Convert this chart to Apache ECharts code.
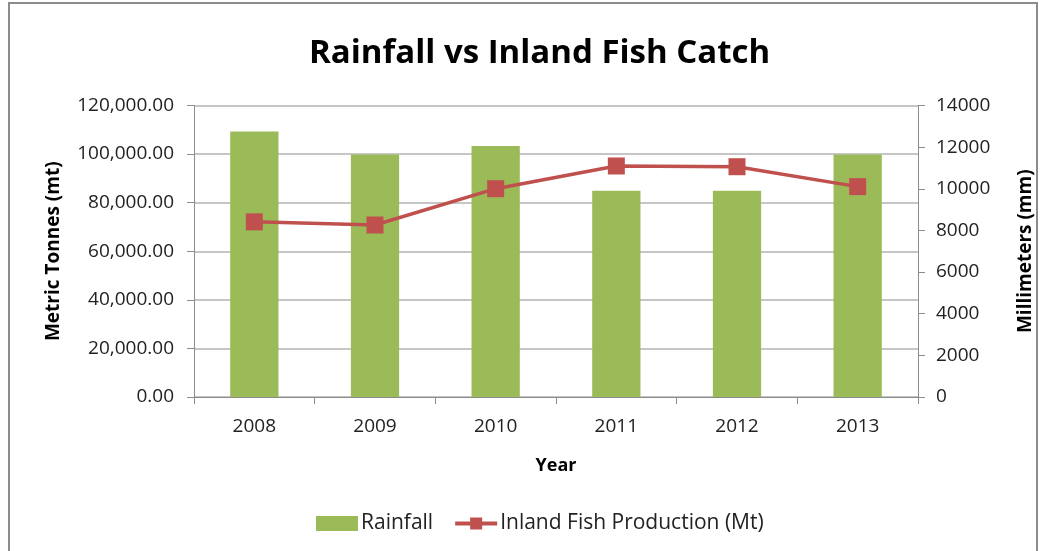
<!DOCTYPE html>
<html><head><meta charset="utf-8">
<script src="https://cdn.jsdelivr.net/npm/echarts@6/dist/echarts.min.js"></script>
<style>
html,body{margin:0;padding:0;background:#fff;}
#frame{position:absolute;left:8px;top:2px;width:1030px;height:560px;border:2px solid #8c8c8c;box-sizing:border-box;}
#c{position:absolute;left:0;top:0;width:1048px;height:551px;}
</style></head>
<body>
<div id="frame"></div>
<div id="c"></div>
<script>
const years = ['2008','2009','2010','2011','2012','2013'];
const rainfall = [12750, 11650, 12050, 9900, 9900, 11650];
const fishProduction = [72100, 70800, 85750, 95100, 94800, 86600];
const leftTicks = [0, 20000, 40000, 60000, 80000, 100000, 120000];
const rightTicks = [0, 2000, 4000, 6000, 8000, 10000, 12000, 14000];

const chart = echarts.init(document.getElementById('c'), null, {renderer:'canvas'});
const font = '"Open Sans", "Liberation Sans", sans-serif';
chart.setOption({
  backgroundColor: 'transparent',
  animation: false,
  title: {
    text: 'Rainfall vs Inland Fish Catch',
    left: 304, top: 32,
    textStyle: {fontFamily: font, fontWeight: 'bold', fontSize: 33, color: '#000'}
  },
  grid: {left: 194, right: 130, top: 105.5, bottom: 154, containLabel: false},
  legend: {
    bottom: 12, left: 311, itemGap: 20,
    textStyle: {fontFamily: font, fontSize: 21, color: '#222', padding: [0,0,0,-2]},
    data: [
      {name: 'Rainfall', icon: 'rect', itemStyle:{color:'#9bbb59'}},
      {name: 'Inland Fish Production (Mt)', lineStyle: {width: 4}}
    ],
    itemWidth: 42, itemHeight: 15
  },
  xAxis: {
    type: 'category', data: years,
    name: 'Year', nameLocation: 'middle', nameGap: 60,
    nameTextStyle: {fontFamily: font, fontWeight: 'bold', fontSize: 18, color: '#000'},
    axisLine: {lineStyle: {color: '#8c8c8c', width: 1}},
    axisTick: {show: true, length: 7, lineStyle: {color: '#8c8c8c'}},
    axisLabel: {fontFamily: font, fontSize: 19, color: '#222', margin: 20}
  },
  yAxis: [
    {
      type: 'value', min: 0, max: 120000, interval: 20000, position: 'left',
      name: 'Metric Tonnes (mt)', nameLocation: 'middle', nameGap: 131, nameRotate: 90,
      nameTextStyle: {fontFamily: font, fontWeight: 'bold', fontSize: 19, color: '#000'},
      axisLine: {show: true, lineStyle: {color: '#8c8c8c'}},
      axisTick: {show: true, length: 7, lineStyle: {color: '#8c8c8c'}},
      axisLabel: {fontFamily: font, fontSize: 19, color: '#222', margin: 20,
        formatter: v => v.toLocaleString('en-US', {minimumFractionDigits: 2, maximumFractionDigits: 2})},
      splitLine: {show: true, lineStyle: {color: '#b3b3b3', width: 1.5}}
    },
    {
      type: 'value', min: 0, max: 14000, interval: 2000, position: 'right',
      name: 'Millimeters (mm)', nameLocation: 'middle', nameGap: 98, nameRotate: 90,
      nameTextStyle: {fontFamily: font, fontWeight: 'bold', fontSize: 19, color: '#000'},
      axisLine: {show: true, lineStyle: {color: '#8c8c8c'}},
      axisTick: {show: true, length: 7, lineStyle: {color: '#8c8c8c'}},
      axisLabel: {fontFamily: font, fontSize: 19, color: '#222', margin: 18,
        formatter: v => String(v)},
      splitLine: {show: false}
    }
  ],
  series: [
    {
      name: 'Rainfall', type: 'bar', yAxisIndex: 1, data: rainfall,
      barWidth: '40%', itemStyle: {color: '#9bbb59'}
    },
    {
      name: 'Inland Fish Production (Mt)', type: 'line', yAxisIndex: 0, data: fishProduction,
      symbol: 'rect', symbolSize: 17,
      lineStyle: {color: '#c0504d', width: 3.5},
      itemStyle: {color: '#c0504d'}
    }
  ]
});
</script>
</body></html>
